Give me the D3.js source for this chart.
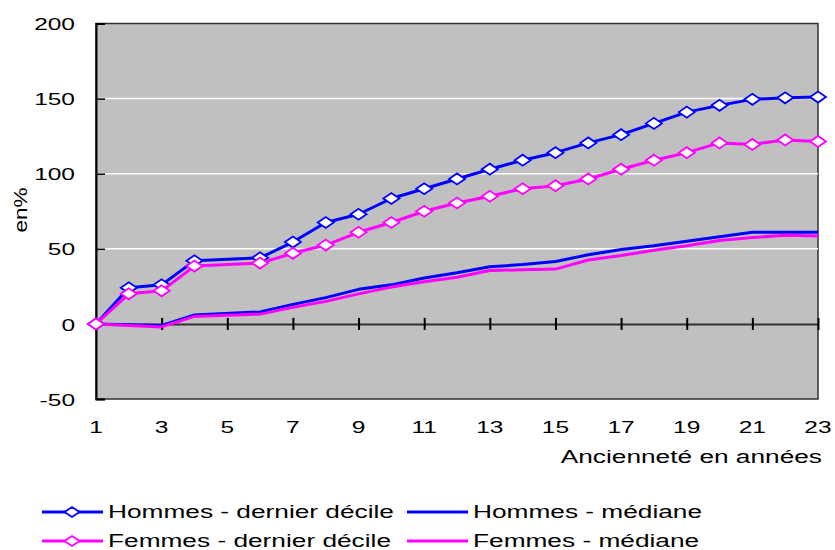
<!DOCTYPE html>
<html>
<head>
<meta charset="utf-8">
<script src="https://cdn.jsdelivr.net/npm/d3@7"></script>
<style>
  body { margin: 0; background: #fff; }
  text { font-family: "Liberation Sans", Arial, sans-serif; fill: #000; }
  .tick text { font-size: 17px; }
  .legend text { font-size: 17.5px; }
</style>
</head>
<body>
<script>
// Data (year 5 has no point)
const years = d3.range(1, 24);
const hommesDecile = [0, 24, 26, 42, null, 44, 54.5, 67.5, 73, 83.5, 90, 96.5, 103, 109, 114, 120.5, 126, 133.5, 141, 145.5, 149.5, 150.5, 151];
const femmesDecile = [0, 20, 22, 38.5, null, 40.5, 47, 52.5, 61, 67.5, 75, 80.5, 85, 90, 92, 96.5, 103, 109, 114, 120.5, 119.5, 122.5, 121.5];
const hommesMediane = [0, -0.5, -1, 6, null, 8, 13, 17.5, 23, 26, 30.5, 34, 38, 39.5, 41.5, 46, 49.5, 52, 55, 58, 61, 61, 61];
const femmesMediane = [0, -1, -2, 5, null, 6.5, 11, 15, 20, 24.5, 28, 31, 35.5, 36, 36.5, 42.5, 45.5, 49, 52, 55.5, 57.5, 59, 58.5];
const yTicks = [-50, 0, 50, 100, 150, 200];
const xTicks = [1, 3, 5, 7, 9, 11, 13, 15, 17, 19, 21, 23];

const series = [
  { name: "Hommes - dernier décile", values: hommesDecile, color: "#0000ff", marker: true },
  { name: "Hommes - médiane", values: hommesMediane, color: "#0000ff", marker: false },
  { name: "Femmes - dernier décile", values: femmesDecile, color: "#ff00ff", marker: true },
  { name: "Femmes - médiane", values: femmesMediane, color: "#ff00ff", marker: false }
];

const width = 835, height = 550;
const plotLeft = 96, plotRight = 818, plotTop = 23.5, plotBottom = 399;

// the original is drawn with a wide text, stretch glyphs horizontally
function stretch(sel, k) {
  sel.each(function() {
    const w = this.getComputedTextLength();
    d3.select(this)
      .attr("textLength", w * k)
      .attr("lengthAdjust", "spacingAndGlyphs");
  });
}

const svg = d3.select("body").append("svg")
  .attr("width", width)
  .attr("height", height);

const x = d3.scaleLinear().domain([1, 23]).range([plotLeft, plotRight]);
const y = d3.scaleLinear().domain([-50, 200]).range([plotBottom, plotTop]);

// plot area
svg.append("rect")
  .attr("x", plotLeft).attr("y", plotTop)
  .attr("width", plotRight - plotLeft).attr("height", plotBottom - plotTop)
  .attr("fill", "#c0c0c0")
  .attr("stroke", "#303030")
  .attr("stroke-width", 1.5);

// white gridlines
svg.append("g")
  .selectAll("line")
  .data([50, 100, 150])
  .join("line")
  .attr("x1", plotLeft).attr("x2", plotRight)
  .attr("y1", d => y(d)).attr("y2", d => y(d))
  .attr("stroke", "#fff")
  .attr("stroke-width", 1.5);

// y axis, ticks pointing inward
const yAxis = svg.append("g")
  .attr("transform", `translate(${plotLeft},0)`)
  .call(d3.axisLeft(y).tickValues(yTicks).tickSize(-9).tickPadding(21)
    .tickFormat(d => String(d)));
yAxis.select(".domain").attr("stroke", "#000").attr("stroke-width", 2);
yAxis.selectAll(".tick line").attr("stroke", "#000").attr("stroke-width", 1.5);
yAxis.selectAll(".tick text").attr("dy", "0.36em").call(stretch, 1.44);

// x axis line at y = 0, crossing ticks
const xAxis = svg.append("g")
  .attr("transform", `translate(0,${y(0)})`)
  .call(d3.axisBottom(x).tickValues(xTicks).tickSize(0).tickFormat(""));
xAxis.select(".domain").attr("stroke", "#303030").attr("stroke-width", 2);
xAxis.selectAll(".tick line")
  .attr("y1", -6).attr("y2", 6)
  .attr("stroke", "#000").attr("stroke-width", 2);

// x tick labels below plot
svg.append("g")
  .attr("class", "tick")
  .selectAll("text")
  .data(xTicks)
  .join("text")
  .attr("x", d => x(d))
  .attr("y", 433)
  .attr("text-anchor", "middle")
  .text(d => d)
  .call(stretch, 1.44);

// axis titles
svg.append("text")
  .attr("x", plotRight + 4)
  .attr("y", 463)
  .attr("text-anchor", "end")
  .style("font-size", "17.5px")
  .text("Ancienneté en années")
  .call(stretch, 1.5);

svg.append("text")
  .attr("transform", "translate(27,210) rotate(-90)")
  .attr("text-anchor", "middle")
  .style("font-size", "18px")
  .text("en%")
  .call(stretch, 1.25);

// lines
const line = d3.line()
  .x(d => x(d.year))
  .y(d => y(d.value));

const diamond = "M-8,0L0,-5.5L8,0L0,5.5Z";

const drawOrder = [series[1], series[3], series[0], series[2]];
drawOrder.forEach(s => {
  const pts = years.map((yr, i) => ({ year: yr, value: s.values[i] }))
    .filter(d => d.value !== null);
  svg.append("path")
    .datum(pts)
    .attr("fill", "none")
    .attr("stroke", s.color)
    .attr("stroke-width", 3)
    .attr("stroke-linejoin", "round")
    .attr("d", line);
  if (s.marker) {
    svg.append("g")
      .selectAll("path")
      .data(pts)
      .join("path")
      .attr("transform", d => `translate(${x(d.year)},${y(d.value)})`)
      .attr("d", diamond)
      .attr("fill", "#fff")
      .attr("stroke", s.color)
      .attr("stroke-width", 1.8);
  }
});

// legend
const legend = svg.append("g").attr("class", "legend");
const legendPos = [[42, 512], [407, 512], [42, 541], [407, 541]];
series.forEach((s, i) => {
  const [lx, ly] = legendPos[i];
  const g = legend.append("g").attr("transform", `translate(${lx},${ly})`);
  g.append("line")
    .attr("x1", 0).attr("x2", 61)
    .attr("y1", 0).attr("y2", 0)
    .attr("stroke", s.color)
    .attr("stroke-width", 3);
  if (s.marker) {
    g.append("path")
      .attr("transform", "translate(30,0)")
      .attr("d", "M-7.5,0L0,-5L7.5,0L0,5Z")
      .attr("fill", "#fff")
      .attr("stroke", s.color)
      .attr("stroke-width", 1.8);
  }
  g.append("text")
    .attr("x", 66)
    .attr("y", 6)
    .text(s.name)
    .call(stretch, 1.5);
});
</script>
</body>
</html>
